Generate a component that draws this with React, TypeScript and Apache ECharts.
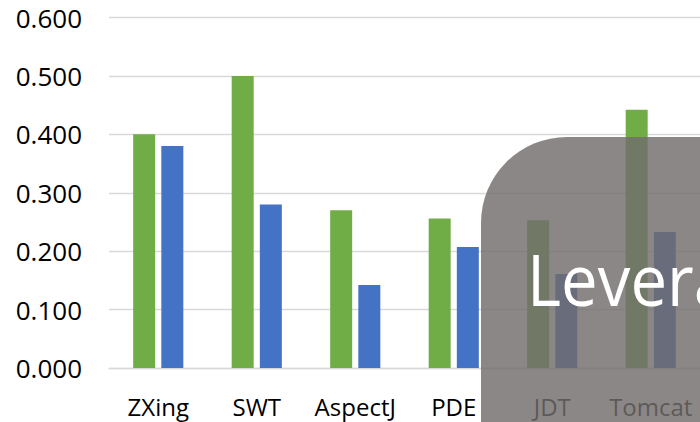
import React, { useEffect, useRef } from "react";
import * as echarts from "echarts";

const categories = ["ZXing", "SWT", "AspectJ", "PDE", "JDT", "Tomcat"];
const greenValues = [0.4, 0.5, 0.27, 0.256, 0.253, 0.442];
const blueValues = [0.38, 0.28, 0.142, 0.207, 0.161, 0.233];
const yTicks = { min: 0, max: 0.6, interval: 0.1 };
const overlayText = "Leverage";

export default function App() {
  const ref = useRef<HTMLDivElement>(null);
  useEffect(() => {
    if (!ref.current) return;
    const chart = echarts.init(ref.current, null, { renderer: "svg" });
    const font = "'Open Sans', sans-serif";
    chart.setOption({
      animation: false,
      backgroundColor: "#ffffff",
      grid: { left: 109, top: 17.5, bottom: 54, width: 594, containLabel: false },
      xAxis: {
        type: "category",
        data: categories,
        axisTick: { show: false },
        axisLine: { show: true, lineStyle: { color: "#D9D9D9", width: 1.3 } },
        axisLabel: { color: "#000", fontSize: 24, fontFamily: font, margin: 26, interval: 0 },
      },
      yAxis: {
        type: "value",
        min: yTicks.min,
        max: yTicks.max,
        interval: yTicks.interval,
        axisLine: { show: false },
        axisTick: { show: false },
        splitLine: { lineStyle: { color: "#D9D9D9", width: 1.3 } },
        axisLabel: {
          color: "#000",
          fontSize: 26,
          fontFamily: font,
          margin: 27,
          formatter: (v: number) => v.toFixed(3),
        },
      },
      series: [
        {
          type: "bar",
          data: greenValues,
          barWidth: 22,
          barGap: "28%",
          itemStyle: { color: "#70AD47" },
        },
        {
          type: "bar",
          data: blueValues,
          barWidth: 22,
          itemStyle: { color: "#4472C4" },
        },
      ],
      graphic: [
        {
          type: "rect",
          z: 100,
          shape: { x: 481, y: 137, width: 300, height: 320, r: [86, 0, 0, 0] },
          style: { fill: "rgba(113,108,107,0.82)" },
        },
        {
          type: "text",
          z: 101,
          x: 527,
          y: 278,
          scaleX: 0.92,
          style: {
            text: overlayText,
            fill: "#ffffff",
            font: "normal 71px 'Open Sans', sans-serif",
            textAlign: "left",
            textVerticalAlign: "middle",
          },
        },
      ],
    });
    return () => chart.dispose();
  }, []);
  return (
    <div
      ref={ref}
      style={{ position: "fixed", left: 0, top: 0, width: 700, height: 422, overflow: "hidden" }}
    />
  );
}
